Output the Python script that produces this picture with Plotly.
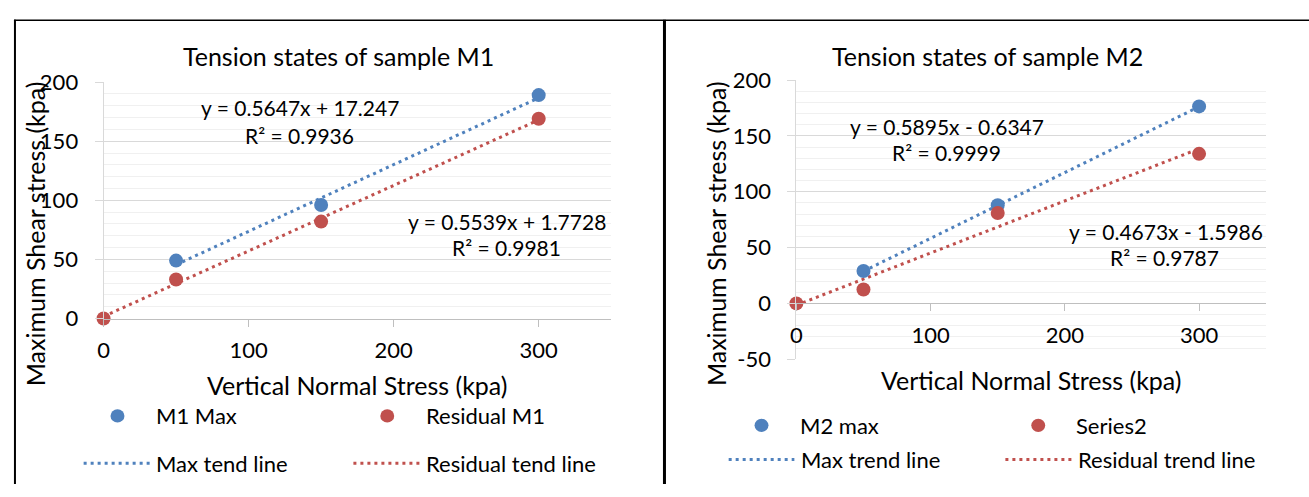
import numpy as np
import plotly.graph_objects as go

# ---------------- data ----------------
stress_m1_max = [50, 150, 300]
shear_m1_max = [49, 96, 189]
stress_m1_res = [0, 50, 150, 300]
shear_m1_res = [0, 33, 82, 169]

stress_m2_max = [50, 150, 300]
shear_m2_max = [29, 88, 176.5]
stress_m2_res = [0, 50, 150, 300]
shear_m2_res = [0, 12.5, 81, 134]

# trend lines (slope, intercept) as labelled on the chart, and x spans
m1_max_fit = [0.5647, 17.247]
m1_res_fit = [0.5539, 1.7728]
m2_max_fit = [0.5895, -0.6347]
m2_res_fit = [0.4673, -1.5986]
max_trend_span = [50, 300]
res_trend_span = [0, 300]

x_ticks = [0, 100, 200, 300]
x_tick_labels = ["0", "100", "200", "300"]
y1_ticks = [0, 50, 100, 150, 200]
y1_tick_labels = ["0", "50", "100", "150", "200"]
y2_ticks = [-50, 0, 50, 100, 150, 200]
y2_tick_labels = ["-50", "0", "50", "100", "150", "200"]

eq_labels_m1 = ["y = 0.5647x + 17.247", "R² = 0.9936", "y = 0.5539x + 1.7728", "R² = 0.9981"]
eq_labels_m2 = ["y = 0.5895x - 0.6347", "R² = 0.9999", "y = 0.4673x - 1.5986", "R² = 0.9787"]
titles = ["Tension states of sample M1", "Tension states of sample M2"]
x_title = "Vertical Normal Stress (kpa)"
y_title = "Maximum Shear stress (kpa)"
legend_m1 = ["M1 Max", "Residual M1", "Max tend line", "Residual tend line"]
legend_m2 = ["M2 max", "Series2", "Max trend line", "Residual trend line"]

# ---------------- style ----------------
W, H = 1309, 497
FONT = "Lato"
BLUE = "#4f81bd"
RED = "#c0504d"
MAJOR = "#d9d9d9"
MINOR = "#f0f0f0"
AXIS = "#bfbfbf"


def px(x):
    return x / W


def py(y):
    return 1 - y / H


def fit_line(fit, span):
    xs = np.array(span, dtype=float)
    return xs, fit[0] * xs + fit[1]


fig = go.Figure()

panels = [
    ("x", "y", stress_m1_max, shear_m1_max, stress_m1_res, shear_m1_res, m1_max_fit, m1_res_fit, legend_m1),
    ("x2", "y2", stress_m2_max, shear_m2_max, stress_m2_res, shear_m2_res, m2_max_fit, m2_res_fit, legend_m2),
]
for xa, ya, mx, my, rx, ry, mfit, rfit, names in panels:
    for fit, span, color, name in [(mfit, max_trend_span, BLUE, names[2]),
                                   (rfit, res_trend_span, RED, names[3])]:
        lx, ly = fit_line(fit, span)
        fig.add_trace(go.Scatter(x=lx, y=ly, mode="lines", name=name,
                                 line=dict(color=color, width=3, dash="3px,4px"),
                                 xaxis=xa, yaxis=ya, showlegend=False))
    for xs, ys, color, name in [(mx, my, BLUE, names[0]), (rx, ry, RED, names[1])]:
        fig.add_trace(go.Scatter(x=xs, y=ys, mode="markers", name=name, cliponaxis=False,
                                 marker=dict(color=color, size=14), xaxis=xa, yaxis=ya,
                                 showlegend=False))

# domains
x1_dom = [px(98), px(608)]
y1_dom = [py(322), py(72)]
x2_dom = [px(794), px(1266)]
y2_dom = [py(365), py(70)]
zero_pos2 = y2_dom[0] + (0 - (-50)) / 250 * (y2_dom[1] - y2_dom[0])

tickfont = dict(family=FONT, size=22, color="#000")

yaxis_common = dict(showgrid=True, gridcolor=MAJOR, gridwidth=1,
                    minor=dict(dtick=10, tick0=0, showgrid=True, gridcolor=MINOR, gridwidth=1),
                    ticks="outside", ticklen=8, tickcolor=MAJOR, showline=True,
                    linecolor=MAJOR, linewidth=1, zeroline=False, tickfont=tickfont,
                    ticklabelstandoff=12, tickmode="array")
xaxis_common = dict(range=[0, 350], showgrid=False, zeroline=False, tickmode="array",
                    tickvals=x_ticks, ticktext=x_tick_labels,
                    ticks="outside", ticklen=7, tickcolor=AXIS, showline=True,
                    linecolor=AXIS, linewidth=1, tickfont=tickfont)

fig.update_layout(
    width=W, height=H, margin=dict(l=0, r=0, t=0, b=0),
    paper_bgcolor="white", plot_bgcolor="white", showlegend=False,
    font=dict(family=FONT, color="#000"),
    xaxis=dict(domain=x1_dom, anchor="y", ticklabelstandoff=5, **xaxis_common),
    yaxis=dict(domain=y1_dom, anchor="x", range=[0, 200], tickvals=y1_ticks,
               ticktext=y1_tick_labels, **yaxis_common),
    xaxis2=dict(domain=x2_dom, anchor="free", position=zero_pos2, ticklabelstandoff=5,
                **xaxis_common),
    yaxis2=dict(domain=y2_dom, anchor="x2", range=[-50, 200], tickvals=y2_ticks,
                ticktext=y2_tick_labels, **yaxis_common),
)

ann = []


def text(x, y, s, size, xanchor="center", angle=0):
    ann.append(dict(x=px(x), y=py(y), xref="paper", yref="paper", text=s, showarrow=False,
                    xanchor=xanchor, yanchor="middle", textangle=angle,
                    font=dict(family=FONT, size=size, color="#000")))


# titles
text(334, 44, titles[0], 25)
text(986, 44, titles[1], 25)
# axis titles
text(353, 392, x_title, 25)
text(1030, 387, x_title, 25)
text(30, 232, y_title, 25, angle=-90)
text(714, 232, y_title, 25, angle=-90)
# equations
text(295, 99, eq_labels_m1[0], 21)
text(295, 128, eq_labels_m1[1], 21)
text(503, 219, eq_labels_m1[2], 21)
text(503, 247, eq_labels_m1[3], 21)
text(945, 119, eq_labels_m2[0], 21)
text(945, 146, eq_labels_m2[1], 21)
text(1165, 230, eq_labels_m2[2], 21)
text(1164, 257, eq_labels_m2[3], 21)
# legend text
text(149, 425, legend_m1[0], 22, "left")
text(420, 425, legend_m1[1], 22, "left")
text(149, 475, legend_m1[2], 22, "left")
text(420, 475, legend_m1[3], 22, "left")
text(796, 435, legend_m2[0], 22, "left")
text(1073, 435, legend_m2[1], 22, "left")
text(797, 471, legend_m2[2], 22, "left")
text(1075, 471, legend_m2[3], 22, "left")

shapes = []


def dot(cx, cy, color, r=7):
    shapes.append(dict(type="circle", xref="paper", yref="paper", x0=px(cx - r), x1=px(cx + r),
                       y0=py(cy + r), y1=py(cy - r), fillcolor=color, line=dict(width=0)))


def dline(x0, x1, y, color):
    shapes.append(dict(type="line", xref="paper", yref="paper", x0=px(x0), x1=px(x1),
                       y0=py(y), y1=py(y), line=dict(color=color, width=3, dash="3px,4px")))


dot(112, 425, BLUE)
dot(383, 425, RED)
dline(78, 145, 475, BLUE)
dline(349, 417, 475, RED)
dot(759, 435, BLUE)
dot(1037, 435, RED)
dline(726, 792, 471, BLUE)
dline(1004, 1072, 471, RED)

# panel borders
shapes.append(dict(type="line", xref="paper", yref="paper", x0=px(8), x1=1, y0=py(6.5), y1=py(6.5),
                   line=dict(color="#000", width=1.5)))
shapes.append(dict(type="line", xref="paper", yref="paper", x0=px(9), x1=px(9), y0=py(6), y1=0,
                   line=dict(color="#000", width=2)))
shapes.append(dict(type="line", xref="paper", yref="paper", x0=px(661.5), x1=px(661.5), y0=py(6), y1=0,
                   line=dict(color="#000", width=3)))

fig.update_layout(annotations=ann, shapes=shapes)
fig.write_html("out.html")
